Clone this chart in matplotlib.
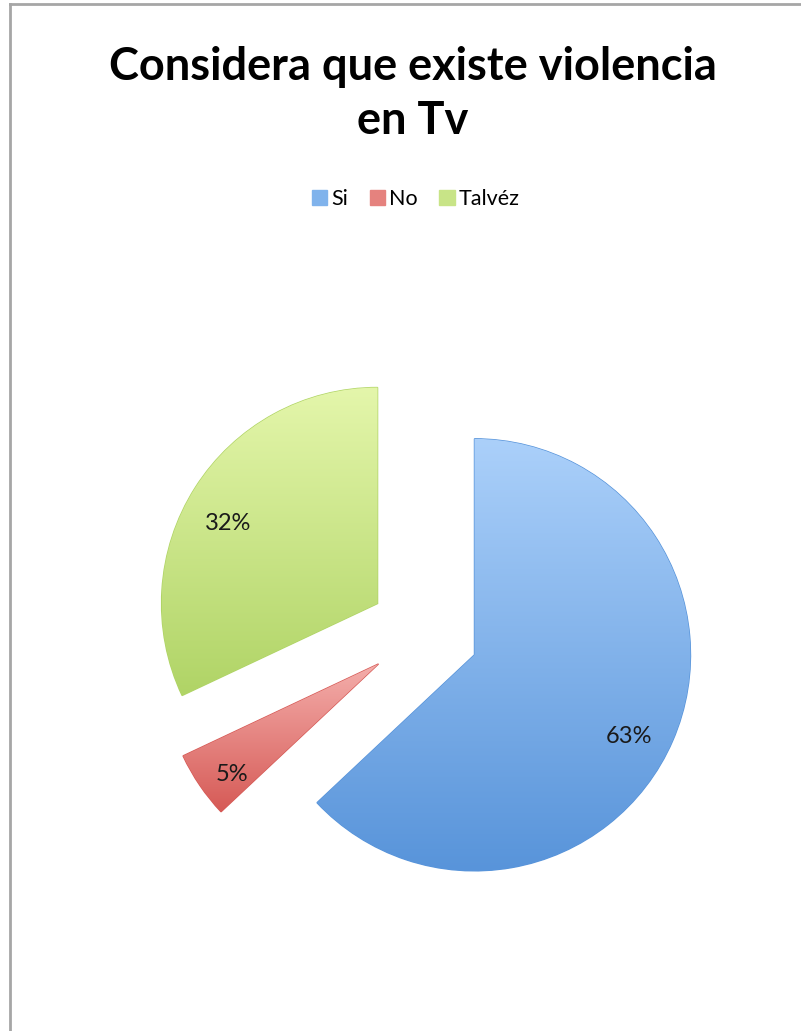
import numpy as np
import matplotlib
matplotlib.use("Agg")
import matplotlib.pyplot as plt
from matplotlib.colors import LinearSegmentedColormap
from matplotlib.patches import Patch
from matplotlib.lines import Line2D

# datos de la encuesta
categorias = ["Si", "No", "Talvéz"]
porcentajes = [63, 5, 32]
colores_claro = ["#abd0fa", "#f4aeab", "#e4f6ab"]
colores_oscuro = ["#5894da", "#d65a56", "#b0d466"]
colores_medio = ["#80b3ec", "#e5827e", "#c8e487"]
titulo = "Considera que existe violencia\nen Tv"

plt.rcParams["font.family"] = ["Lato", "DejaVu Sans"]

fig = plt.figure(figsize=(8.01, 10.31), dpi=100)
ax = fig.add_axes([0, 0, 1, 1])

wedges, texts, autotexts = ax.pie(
    porcentajes, startangle=90, counterclock=False,
    radius=216, center=(424, 398), explode=[55, 55, 55],
    colors=colores_medio, autopct="%1.0f%%", pctdistance=0.8,
    textprops={"fontsize": 17, "color": "#1a1a1a"},
    wedgeprops={"linewidth": 1.0},
)

# degradado vertical en cada sector
grad = np.linspace(0, 1, 256).reshape(-1, 1)
for w, c1, c2 in zip(wedges, colores_claro, colores_oscuro):
    w.set_edgecolor(c2)
    ext = w.get_path().get_extents()
    cmap = LinearSegmentedColormap.from_list("g", [c2, c1])
    im = ax.imshow(grad, extent=[ext.x0, ext.x1, ext.y0, ext.y1], origin="lower",
                   cmap=cmap, aspect="auto", zorder=w.get_zorder() + 0.1)
    im.set_clip_path(w)
for t in autotexts:
    x, y = t.get_position()
    t.set_position((x - 4, y - 13))
    t.set_zorder(5)

ax.set_xlim(0, 801)
ax.set_ylim(0, 1031)
ax.set_aspect("auto")
ax.axis("off")

fig.text(413 / 801, 1 - 94 / 1031, titulo, ha="center", va="center",
         fontsize=32.5, fontweight="bold", linespacing=1.38)

handles = [Patch(facecolor=c, edgecolor=c) for c in colores_medio]
fig.legend(handles, categorias, loc="center", ncol=3, frameon=False,
           bbox_to_anchor=(416 / 801, 1 - 199 / 1031), fontsize=15.5,
           handlelength=0.7, handleheight=0.7, handletextpad=0.2,
           columnspacing=1.0)

# marco gris
fig.add_artist(Line2D([10 / 801, 1], [1 - 4 / 1031, 1 - 4 / 1031],
                      color="#a6a6a6", lw=2, transform=fig.transFigure))
fig.add_artist(Line2D([10 / 801, 10 / 801], [0, 1 - 4 / 1031],
                      color="#a6a6a6", lw=2, transform=fig.transFigure))

fig.savefig("out.png", dpi=100)
